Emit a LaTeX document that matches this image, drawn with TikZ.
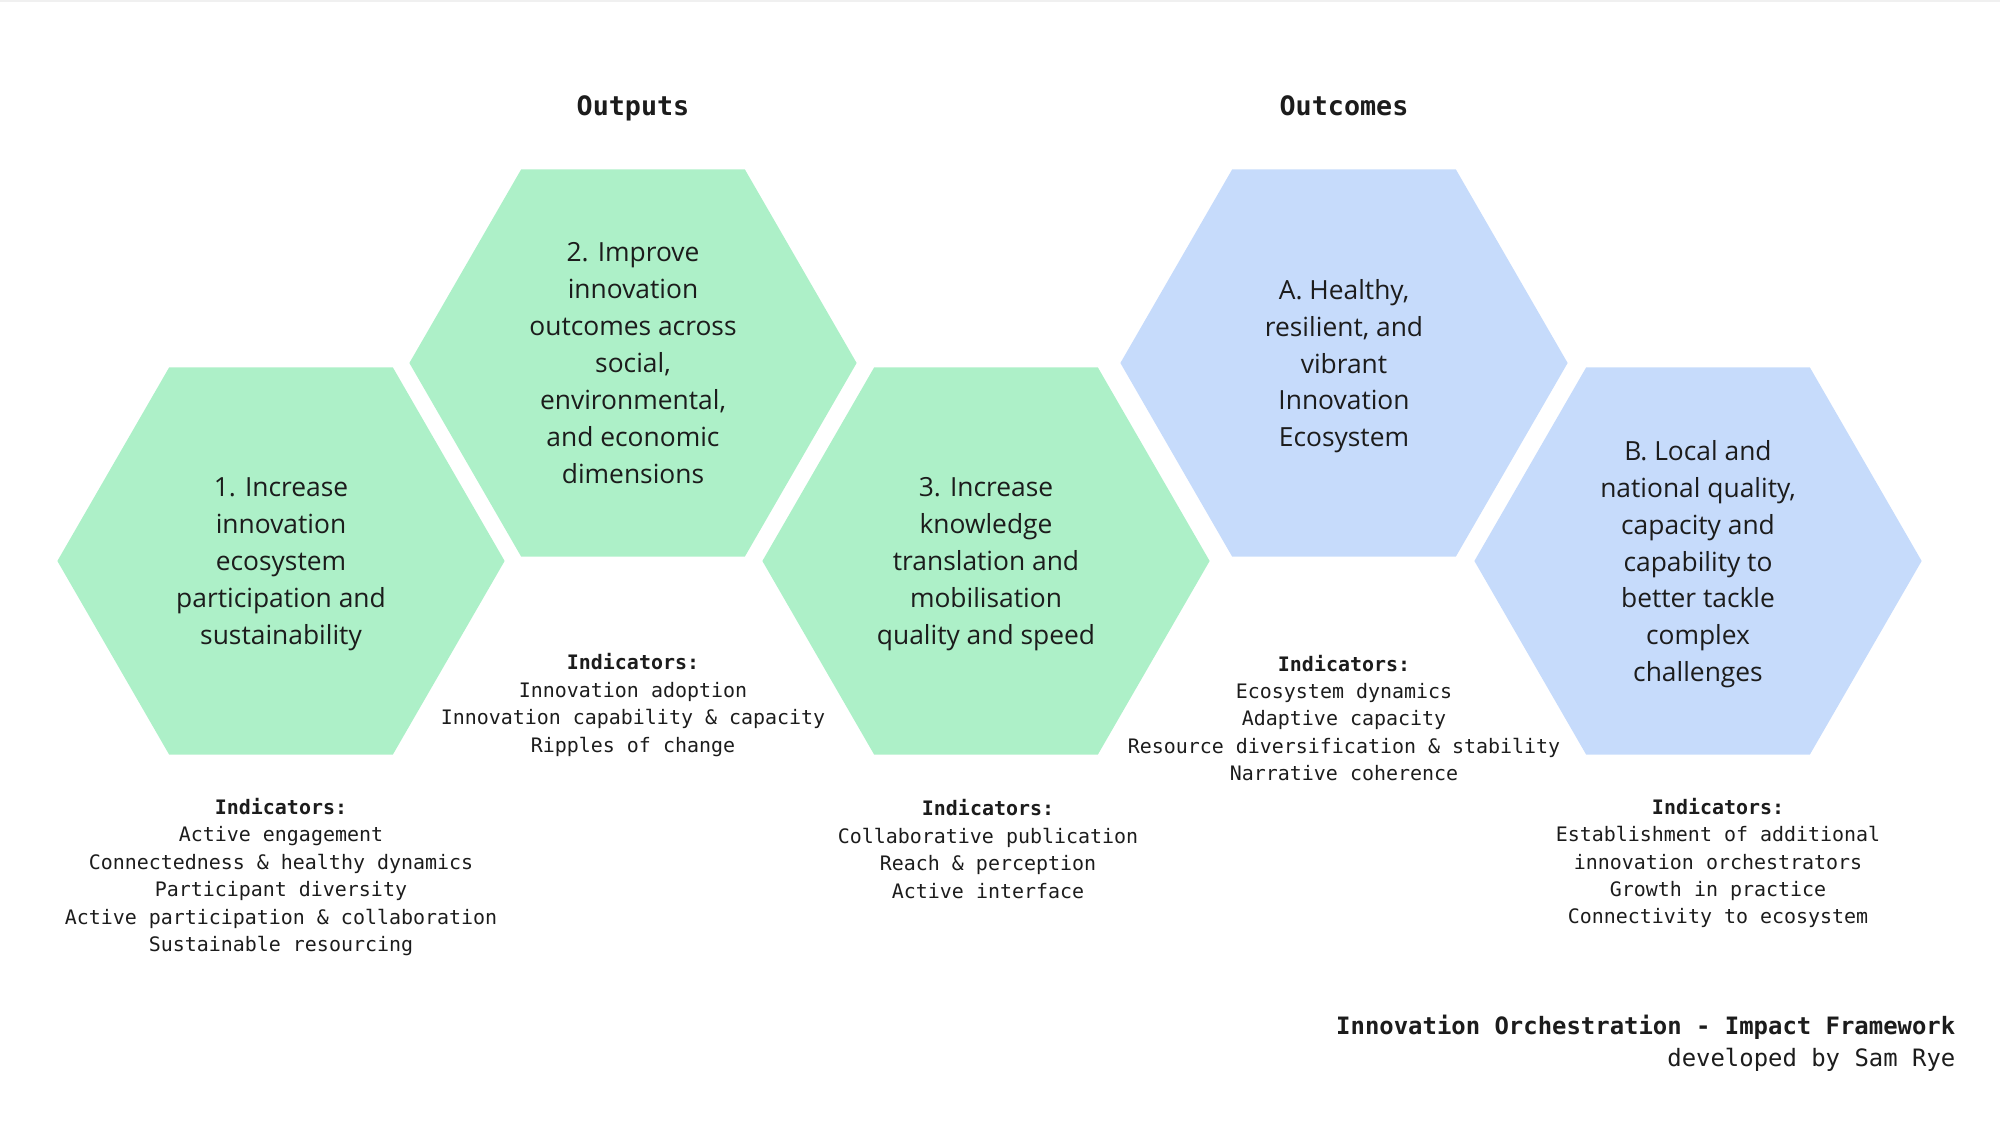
\documentclass[tikz,border=0pt]{standalone}
\usepackage{fontspec}
\setmainfont{Open Sans}
\setmonofont{DejaVu Sans Mono}
\usepackage{tikz}
\usetikzlibrary{shapes.geometric}
\definecolor{outputColor}{RGB}{173,240,200}
\definecolor{outcomeColor}{RGB}{198,219,251}
\definecolor{inkColor}{RGB}{28,28,28}
\tikzstyle{canvas} = [x = .01cm, y = -.01cm]
\tikzstyle{hexStyle} = [regular polygon, regular polygon sides = 6, minimum size = 4.47cm, inner sep = 0pt, text depth = -.4pt, text = inkColor, align = center, font = \fontsize{7.5}{10.5}\selectfont]
\tikzstyle{outputHex} = [hexStyle, fill = outputColor]
\tikzstyle{outcomeHex} = [hexStyle, fill = outcomeColor]
\tikzstyle{indicatorText} = [inner sep = 0pt, align = center, text = inkColor, font = \ttfamily\fontsize{5.67}{7.8}\selectfont]
\tikzstyle{headingText} = [inner sep = 0pt, anchor = base, text = inkColor, font = \ttfamily\bfseries\fontsize{7.6}{9}\selectfont]
\tikzstyle{creditText} = [inner sep = 0pt, align = right, anchor = east, text = inkColor, font = \ttfamily\fontsize{6.8}{9}\selectfont]
\newcommand{\indicatorBlock}[4]{\node [indicatorText] (#1) at (#2, #3) {\textbf{Indicators:}\\#4};}

\begin{document}
\begin{tikzpicture}[canvas]
        \useasboundingbox (0, 0) rectangle (2000, 1125);
        \draw [gray!12, line width = .02cm] (0, 1) -- (2000, 1);

        % headings
        \node [headingText] (outputsHead) at (633, 116) {Outputs};
        \node [headingText] (outcomesHead) at (1344, 116) {Outcomes};

        % outputs
        \node [outputHex] (hexOne) at (281, 561) {1. Increase\\innovation\\ecosystem\\participation and\\sustainability};
        \node [outputHex] (hexTwo) at (633, 363) {2. Improve\\innovation\\outcomes across\\social,\\environmental,\\and economic\\dimensions};
        \node [outputHex] (hexThree) at (986, 561) {3. Increase\\knowledge\\translation and\\mobilisation\\quality and speed};

        % outcomes
        \node [outcomeHex] (hexA) at (1344, 363) {A. Healthy,\\resilient, and\\vibrant\\Innovation\\Ecosystem};
        \node [outcomeHex] (hexB) at (1698, 561) {B. Local and\\national quality,\\capacity and\\capability to\\better tackle\\complex\\challenges};

        % indicators
        \indicatorBlock{indOne}{281}{877}{Active engagement\\Connectedness \& healthy dynamics\\Participant diversity\\Active participation \& collaboration\\Sustainable resourcing}
        \indicatorBlock{indTwo}{633}{705}{Innovation adoption\\Innovation capability \& capacity\\Ripples of change}
        \indicatorBlock{indThree}{988}{849}{Collaborative publication\\Reach \& perception\\Active interface}
        \indicatorBlock{indA}{1344}{718}{Ecosystem dynamics\\Adaptive capacity\\Resource diversification \& stability\\Narrative coherence}
        \indicatorBlock{indB}{1718}{863}{Establishment of additional\\innovation orchestrators\\Growth in practice\\Connectivity to ecosystem}

        \node [creditText] (credit) at (1956, 1043) {\textbf{Innovation Orchestration - Impact Framework}\\developed by Sam Rye};
      \end{tikzpicture}
\end{document}
